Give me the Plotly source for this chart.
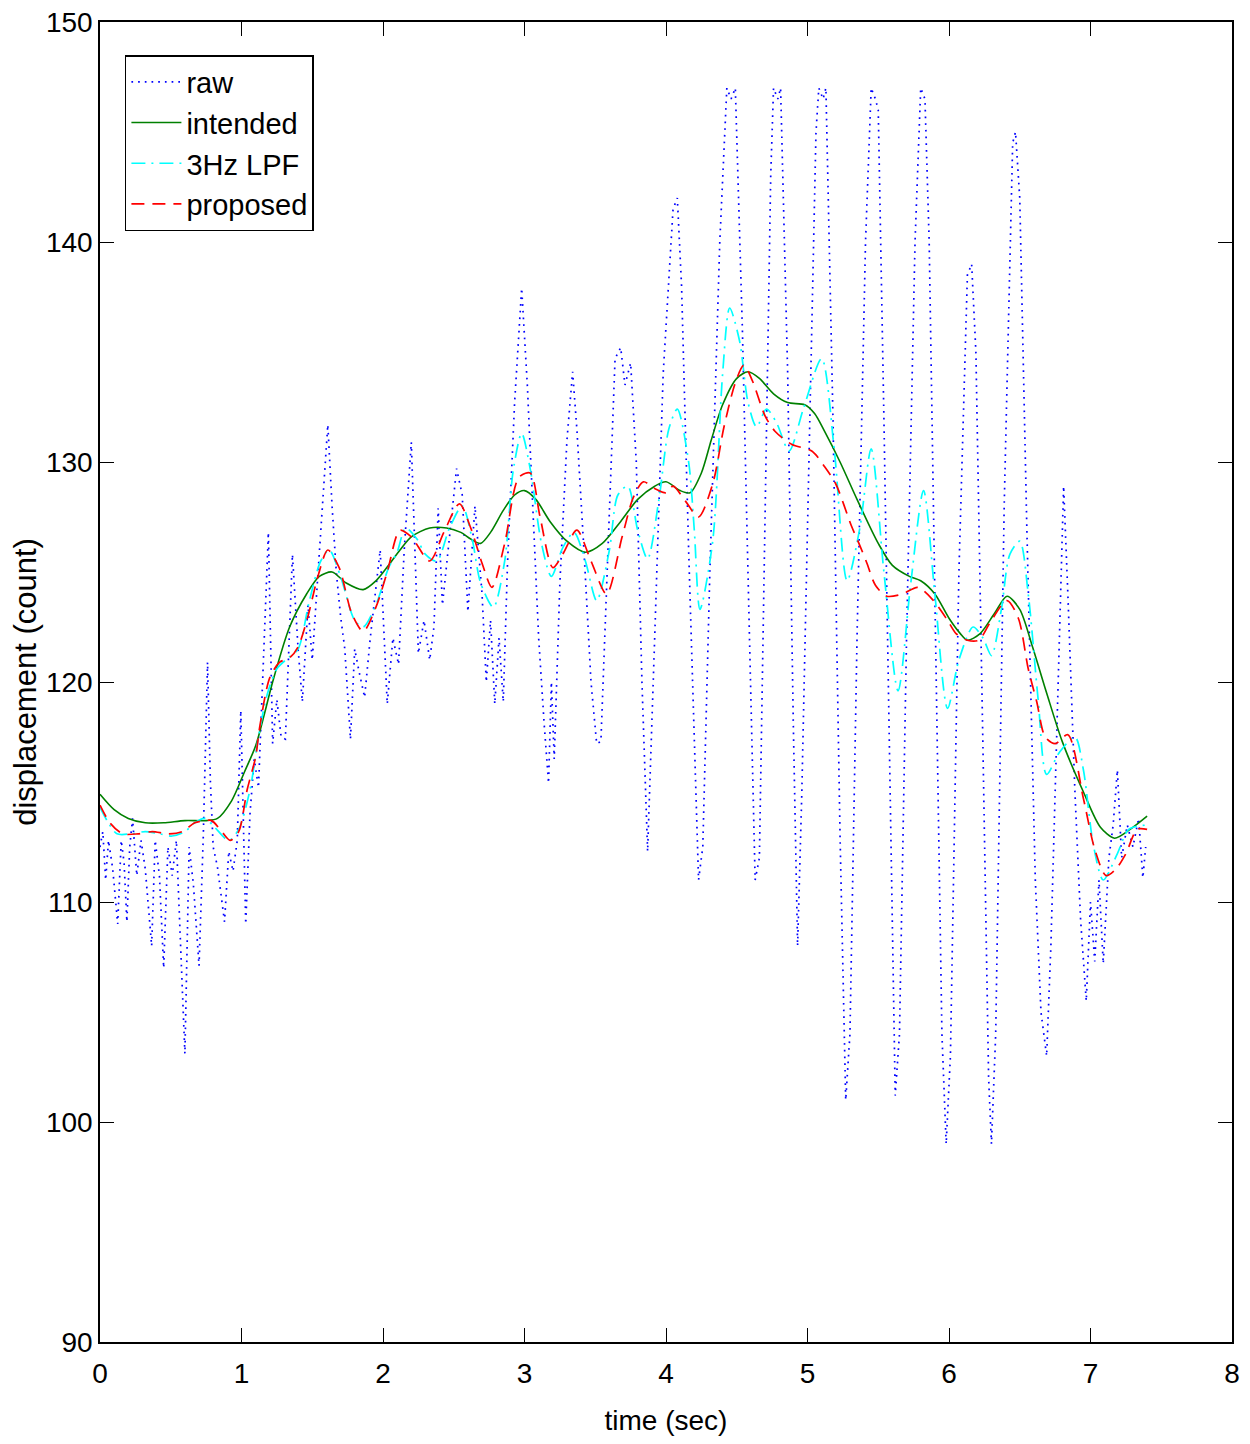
import plotly.graph_objects as go

# ---------------- data ----------------
raw_t = [0.00, 0.02, 0.04, 0.06, 0.09, 0.125, 0.15, 0.17, 0.19, 0.21, 0.23, 0.26, 0.29, 0.32, 0.365,
         0.39, 0.42, 0.45, 0.48, 0.51, 0.54, 0.60, 0.63, 0.66, 0.70, 0.73, 0.76, 0.78, 0.80, 0.83,
         0.88, 0.91, 0.94, 0.97, 0.995, 1.03, 1.06, 1.09, 1.12, 1.14, 1.19, 1.22, 1.25, 1.28, 1.31,
         1.36, 1.40, 1.43, 1.47, 1.50, 1.53, 1.57, 1.61, 1.64, 1.67, 1.70, 1.73, 1.77, 1.80, 1.83,
         1.87, 1.91, 1.95, 1.98, 2.03, 2.07, 2.11, 2.15, 2.20, 2.25, 2.29, 2.33, 2.36, 2.39, 2.42,
         2.46, 2.52, 2.56, 2.60, 2.65, 2.70, 2.73, 2.76, 2.79, 2.82, 2.85, 2.88, 2.93, 2.98, 3.02,
         3.06, 3.10, 3.14, 3.17, 3.19, 3.21, 3.25, 3.30, 3.34, 3.37, 3.42, 3.47, 3.51, 3.54, 3.59,
         3.64, 3.68, 3.71, 3.75, 3.79, 3.83, 3.87, 3.92, 3.98, 4.05, 4.08, 4.11, 4.16, 4.23, 4.26,
         4.31, 4.38, 4.43, 4.46, 4.49, 4.54, 4.59, 4.63, 4.66, 4.70, 4.74, 4.76, 4.79, 4.81, 4.86,
         4.90, 4.93, 4.96, 5.01, 5.06, 5.08, 5.11, 5.13, 5.18, 5.23, 5.27, 5.30, 5.35, 5.41, 5.45,
         5.48, 5.50, 5.54, 5.59, 5.62, 5.65, 5.70, 5.76, 5.80, 5.83, 5.86, 5.91, 5.95, 5.98, 6.01,
         6.07, 6.13, 6.16, 6.19, 6.24, 6.28, 6.30, 6.33, 6.39, 6.45, 6.47, 6.50, 6.55, 6.61, 6.65,
         6.69, 6.72, 6.77, 6.81, 6.84, 6.89, 6.93, 6.97, 7.00, 7.03, 7.06, 7.09, 7.13, 7.16, 7.19,
         7.22, 7.26, 7.30, 7.34, 7.37, 7.39]
raw_y = [112.5, 113.2, 111.0, 112.8, 111.5, 109.0, 112.8, 111.8, 109.1, 112.5, 113.8, 111.2, 112.8, 111.5, 108.0,
         112.8, 111.2, 107.0, 112.5, 111.2, 112.8, 103.1, 112.5, 110.8, 107.1, 113.0, 120.9, 115.5, 112.5, 111.6,
         109.1, 112.3, 111.4, 112.8, 118.7, 109.0, 114.0, 116.5, 115.2, 118.5, 126.8, 117.2, 119.2, 117.5, 117.4,
         125.8, 121.5, 119.1, 123.5, 121.0, 123.9, 127.5, 131.7, 128.0, 125.0, 123.0, 121.5, 117.4, 121.5, 120.5,
         119.3, 122.0, 124.2, 126.0, 119.0, 122.0, 120.8, 126.0, 130.9, 121.3, 122.8, 121.0, 122.5, 127.9, 123.5,
         126.0, 129.7, 128.5, 123.2, 128.0, 124.0, 120.0, 122.8, 119.0, 122.0, 119.1, 125.4, 132.7, 137.9, 133.5,
         128.0, 122.0, 118.0, 115.4, 120.0, 116.5, 124.5, 131.0, 134.1, 131.5, 126.0, 120.0, 117.2, 117.3, 126.0,
         134.7, 135.2, 133.5, 134.5, 130.0, 120.0, 112.3, 122.0, 134.0, 141.5, 142.0, 138.0, 126.0, 111.0, 112.5,
         125.0, 140.0, 147.0, 146.5, 147.0, 136.0, 122.0, 111.0, 112.0, 128.0, 143.0, 147.0, 146.5, 147.0, 134.0,
         118.0, 108.0, 115.0, 130.0, 145.0, 147.0, 146.5, 147.0, 132.0, 113.0, 101.0, 104.0, 122.0, 140.0, 147.0,
         146.5, 146.0, 132.0, 112.0, 101.2, 104.0, 122.0, 140.0, 147.0, 146.5, 140.0, 120.0, 104.0, 99.0, 103.0,
         125.0, 138.5, 139.0, 135.0, 117.0, 102.0, 99.0, 104.0, 128.0, 144.5, 145.0, 142.0, 127.0, 111.0, 105.0,
         103.0, 108.0, 120.0, 128.9, 124.0, 115.0, 109.2, 105.5, 110.0, 107.3, 111.0, 107.2, 112.0, 113.5, 116.0,
         112.0, 113.5, 112.5, 113.8, 111.1, 112.5]

intended_t = [0.00, 0.10, 0.20, 0.32, 0.45, 0.60, 0.75, 0.83, 0.93, 1.02, 1.10, 1.16, 1.22, 1.34, 1.46,
              1.55, 1.64, 1.74, 1.86, 1.95, 2.05, 2.12, 2.20, 2.33, 2.45, 2.55, 2.62, 2.69, 2.76, 2.85,
              2.93, 3.00, 3.08, 3.18, 3.30, 3.43, 3.55, 3.68, 3.80, 3.92, 4.00, 4.10, 4.17, 4.25, 4.32,
              4.40, 4.50, 4.58, 4.66, 4.76, 4.86, 4.98, 5.05, 5.12, 5.23, 5.35, 5.50, 5.60, 5.72, 5.80,
              5.90, 6.00, 6.08, 6.13, 6.22, 6.32, 6.41, 6.50, 6.59, 6.69, 6.80, 6.95, 7.07, 7.17, 7.28,
              7.40]
intended_y = [114.9, 114.2, 113.8, 113.6, 113.6, 113.7, 113.7, 113.8, 114.6, 115.9, 117.1, 118.5, 120.0, 122.5, 124.0,
              124.8, 125.0, 124.5, 124.2, 124.6, 125.4, 126.0, 126.6, 127.0, 127.0, 126.8, 126.5, 126.3, 126.8, 127.8,
              128.5, 128.7, 128.3, 127.3, 126.4, 125.9, 126.3, 127.3, 128.3, 128.9, 129.1, 128.7, 128.6, 129.5, 131.0,
              132.6, 133.8, 134.1, 133.8, 133.1, 132.7, 132.6, 132.2, 131.4, 130.0, 128.3, 126.3, 125.3, 124.8, 124.6,
              124.0, 122.9, 122.2, 121.9, 122.2, 123.1, 123.9, 123.3, 121.6, 119.5, 117.3, 115.0, 113.4, 112.9, 113.3,
              113.9]

lpf_t = [0.00, 0.05, 0.12, 0.22, 0.32, 0.42, 0.51, 0.60, 0.67, 0.74, 0.81, 0.91, 0.98, 1.06, 1.12,
         1.18, 1.25, 1.33, 1.40, 1.48, 1.56, 1.62, 1.70, 1.80, 1.86, 1.95, 2.04, 2.10, 2.16, 2.24,
         2.30, 2.38, 2.47, 2.56, 2.63, 2.69, 2.78, 2.86, 2.92, 2.98, 3.04, 3.12, 3.19, 3.27, 3.35,
         3.43, 3.51, 3.60, 3.66, 3.73, 3.80, 3.87, 3.95, 4.02, 4.08, 4.16, 4.20, 4.24, 4.33, 4.40,
         4.45, 4.52, 4.58, 4.64, 4.71, 4.78, 4.87, 4.97, 5.10, 5.19, 5.28, 5.37, 5.45, 5.54, 5.64,
         5.73, 5.82, 5.90, 5.99, 6.07, 6.17, 6.24, 6.30, 6.37, 6.43, 6.50, 6.56, 6.63, 6.69, 6.78,
         6.89, 6.95, 7.02, 7.09, 7.19, 7.27, 7.40]
lpf_y = [114.3, 113.7, 113.1, 113.1, 113.2, 113.1, 113.0, 113.2, 113.6, 113.8, 113.4, 112.8, 113.3, 115.1, 117.5,
         119.4, 120.6, 121.1, 121.5, 123.7, 125.5, 126.0, 124.8, 122.8, 122.5, 123.5, 125.2, 125.9, 127.0, 126.5,
         125.8, 125.5, 127.0, 128.0, 126.5, 124.5, 123.4, 125.5, 129.6, 131.3, 129.7, 126.3, 124.8, 126.1, 126.8,
         125.5, 123.7, 126.0, 128.5, 128.9, 126.9, 125.6, 128.3, 131.5, 132.4, 130.0, 126.9, 123.3, 126.4, 134.0,
         137.0, 135.5, 132.7, 131.6, 132.4, 131.8, 130.5, 132.4, 134.7, 130.5, 124.6, 127.0, 130.6, 125.0, 119.6,
         124.5, 128.7, 124.0, 118.8, 121.0, 122.5, 122.0, 121.2, 123.3, 125.8, 126.4, 124.0, 119.2, 115.8, 116.8,
         117.5, 116.0, 112.6, 111.0, 112.2, 113.3, 113.5]

proposed_t = [0.00, 0.07, 0.16, 0.27, 0.37, 0.48, 0.58, 0.67, 0.74, 0.79, 0.86, 0.92, 0.98, 1.04, 1.10,
              1.13, 1.20, 1.27, 1.34, 1.40, 1.47, 1.54, 1.61, 1.69, 1.78, 1.86, 1.95, 2.03, 2.12, 2.20,
              2.33, 2.43, 2.54, 2.62, 2.70, 2.77, 2.86, 2.96, 3.04, 3.11, 3.20, 3.27, 3.37, 3.47, 3.58,
              3.69, 3.77, 3.84, 3.92, 4.00, 4.05, 4.14, 4.23, 4.33, 4.41, 4.49, 4.55, 4.61, 4.70, 4.77,
              4.89, 5.03, 5.12, 5.20, 5.31, 5.37, 5.42, 5.48, 5.56, 5.67, 5.78, 5.89, 5.99, 6.05, 6.13,
              6.21, 6.29, 6.41, 6.49, 6.56, 6.62, 6.68, 6.75, 6.84, 6.95, 7.03, 7.11, 7.18, 7.25, 7.33,
              7.40]
proposed_y = [114.4, 113.6, 113.1, 113.1, 113.2, 113.1, 113.2, 113.6, 113.7, 113.7, 113.2, 112.8, 113.2, 115.1, 116.6,
              118.0, 120.2, 120.9, 121.1, 121.6, 123.0, 124.8, 126.0, 125.2, 123.1, 122.3, 123.4, 125.0, 126.9, 126.6,
              125.5, 126.8, 128.1, 127.0, 125.4, 124.3, 126.3, 129.3, 129.5, 127.5, 125.2, 125.8, 126.9, 125.5, 124.0,
              126.6, 128.4, 129.1, 128.8, 128.6, 128.9, 128.2, 127.5, 129.0, 131.6, 133.6, 134.4, 133.7, 132.1, 131.4,
              130.8, 130.5, 129.8, 129.0, 127.1, 126.2, 125.4, 124.4, 123.9, 124.0, 124.3, 123.7, 122.8, 122.2, 121.9,
              121.9, 122.7, 123.7, 122.9, 120.6, 119.1, 117.5, 117.2, 117.6, 114.7, 112.4, 111.2, 111.5, 112.2, 113.3,
              113.3]

x_ticks = [0, 1, 2, 3, 4, 5, 6, 7, 8]
y_ticks = [90, 100, 110, 120, 130, 140, 150]

# ---------------- figure ----------------
FONT = "Liberation Sans, Arial, Helvetica, sans-serif"

fig = go.Figure()
fig.add_trace(go.Scatter(x=raw_t, y=raw_y, mode="lines", name="raw",
                         line=dict(color="#0000ff", width=1.7, dash="1.7px,5px")))
fig.add_trace(go.Scatter(x=intended_t, y=intended_y, mode="lines", name="intended",
                         line=dict(color="#008000", width=1.6, shape="spline", smoothing=0.8)))
fig.add_trace(go.Scatter(x=lpf_t, y=lpf_y, mode="lines", name="3Hz LPF",
                         line=dict(color="#00ffff", width=1.7, shape="spline", smoothing=0.8,
                                   dash="14px,6px,2px,6px")))
fig.add_trace(go.Scatter(x=proposed_t, y=proposed_y, mode="lines", name="proposed",
                         line=dict(color="#ff0000", width=1.7, shape="spline", smoothing=0.8,
                                   dash="13px,8px")))

axis_common = dict(showgrid=False, zeroline=False, showline=True, linecolor="black", linewidth=1.5,
                   mirror="allticks", ticks="inside", ticklen=14, tickwidth=1.2, tickcolor="black",
                   automargin=False, ticklabeloverflow="allow",
                   tickfont=dict(family=FONT, size=28, color="black"))

fig.update_xaxes(range=[0, 8], tickmode="array", tickvals=x_ticks, ticktext=[str(v) for v in x_ticks],
                 ticklabelstandoff=6,
                 title=dict(text="time (sec)", font=dict(family=FONT, size=28, color="black"), standoff=22),
                 **axis_common)
fig.update_yaxes(range=[90, 150], tickmode="array", tickvals=y_ticks, ticktext=[str(v) for v in y_ticks],
                 title=dict(text="displacement (count)",
                            font=dict(family=FONT, size=31, color="black"),
                            standoff=10),
                 **axis_common)

fig.update_layout(
    width=1250, height=1444,
    margin=dict(l=92, r=26, t=14, b=110),
    plot_bgcolor="white", paper_bgcolor="white",
    showlegend=True,
    legend=dict(x=0.022, y=0.975, xanchor="left", yanchor="top",
                bgcolor="white", bordercolor="black", borderwidth=1.5,
                font=dict(family=FONT, size=29, color="black"),
                tracegroupgap=0, itemwidth=50),
)

fig.write_html("out.html")
